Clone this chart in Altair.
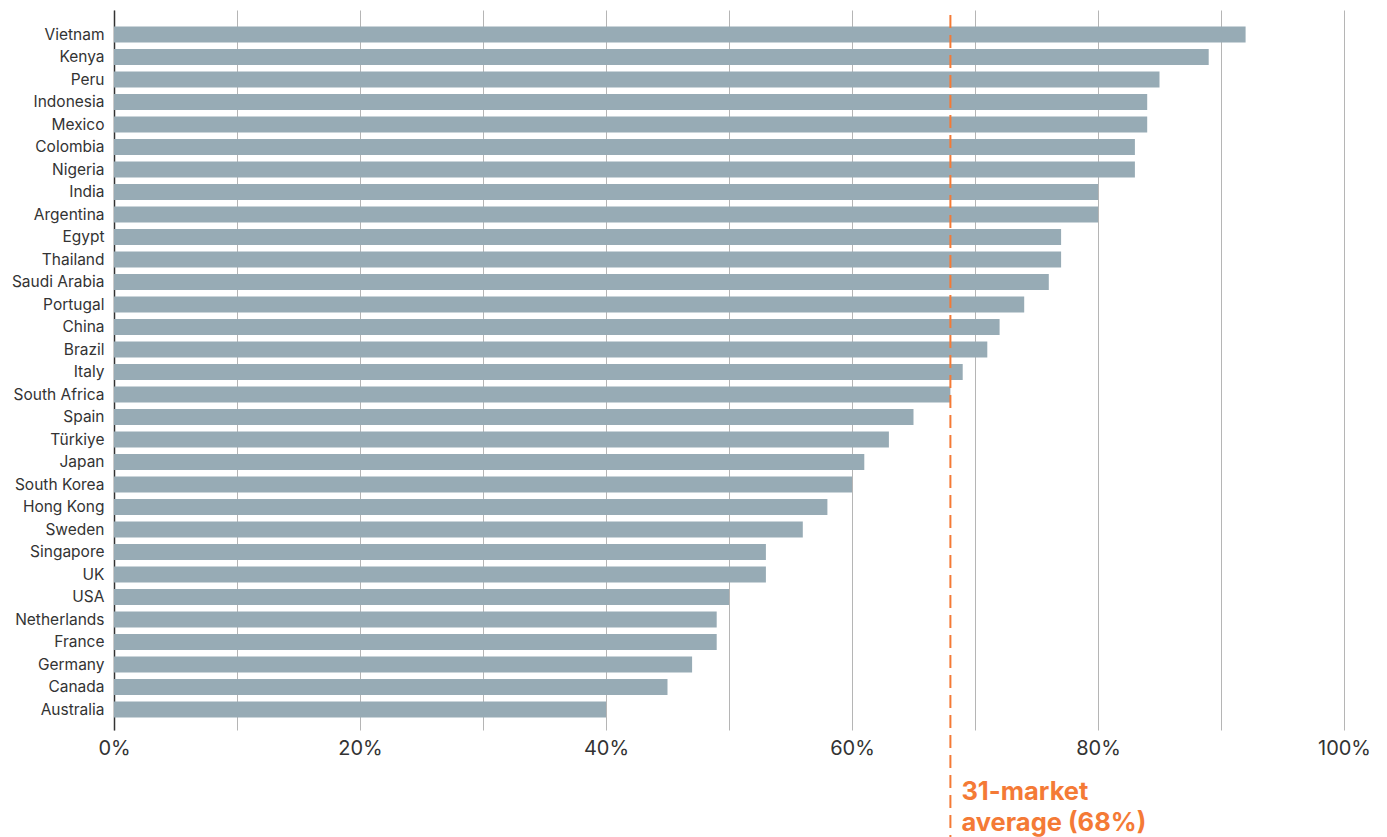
import altair as alt
import pandas as pd

countries = ["Vietnam", "Kenya", "Peru", "Indonesia", "Mexico", "Colombia", "Nigeria",
             "India", "Argentina", "Egypt", "Thailand", "Saudi Arabia", "Portugal", "China",
             "Brazil", "Italy", "South Africa", "Spain", "Türkiye", "Japan", "South Korea",
             "Hong Kong", "Sweden", "Singapore", "UK", "USA", "Netherlands", "France",
             "Germany", "Canada", "Australia"]
values = [92, 89, 85, 84, 84, 83, 83, 80, 80, 77, 77, 76, 74, 72, 71, 69, 68, 65, 63, 61,
          60, 58, 56, 53, 53, 50, 49, 49, 47, 45, 40]
average = 68
avg_label = ["31-market", "average (68%)"]
tick_values = list(range(0, 101, 10))

df = pd.DataFrame({"country": countries, "value": values})
avg_df = pd.DataFrame({"avg": [average], "label": [avg_label]})

FONT = "Inter"
ORANGE = "#F47A36"

bars = alt.Chart(df).mark_bar(color="#97ABB5").encode(
    x=alt.X("value:Q", scale=alt.Scale(domain=[0, 100], nice=False),
            axis=alt.Axis(values=tick_values, title=None, ticks=False, domain=False,
                          grid=True, gridColor="#B5B5B5", gridWidth=1,
                          labelExpr="datum.value % 20 == 0 ? datum.value + '%' : ''",
                          labelFontSize=20, labelColor="#333333", labelFont=FONT,
                          labelPadding=8, labelFlush=False)),
    y=alt.Y("country:N", sort=countries,
            scale=alt.Scale(paddingInner=0.28, paddingOuter=0.64, align=0.57),
            axis=alt.Axis(title=None, ticks=False, domain=True, domainColor="#333333",
                          domainWidth=1.5, labelFontSize=15.5, labelColor="#333333",
                          labelFont=FONT, labelPadding=10, grid=False)),
)

rule = alt.Chart(avg_df).mark_rule(color=ORANGE, strokeWidth=2, strokeDash=[13, 7]).encode(
    x="avg:Q", y=alt.value(5), y2=alt.value(830)
)

label = alt.Chart(avg_df).mark_text(color=ORANGE, fontSize=25.5, fontWeight="bold", font=FONT,
                                    align="left", baseline="alphabetic", dx=11,
                                    lineHeight=31).encode(
    x="avg:Q", y=alt.value(790), text="label"
)

chart = alt.layer(bars, rule, label).properties(
    width=1230, height=720,
    background="white",
    autosize=alt.AutoSizeParams(type="none"),
    padding={"left": 114, "top": 10, "right": 43, "bottom": 107},
).configure_view(strokeWidth=0, stroke=None)

chart.save("out.html", embed_options={"renderer": "svg", "actions": False})
